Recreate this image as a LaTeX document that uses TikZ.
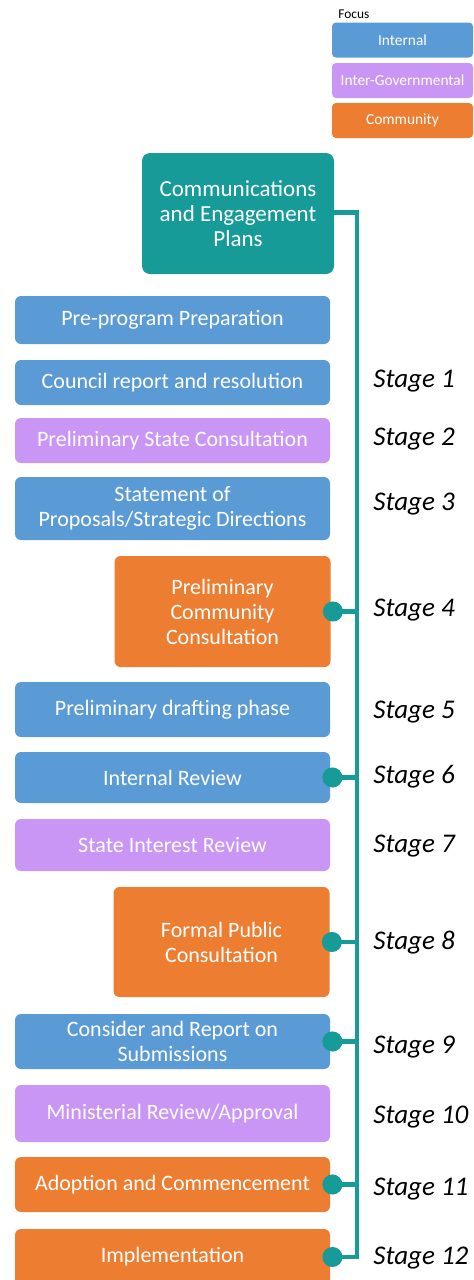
\documentclass[tikz,border=0pt]{standalone}
\usepackage{fontspec}
\setmainfont{Carlito}
\usetikzlibrary{arrows.meta}

\definecolor{internalblue}{RGB}{91,155,213}
\definecolor{govpurple}{RGB}{201,150,246}
\definecolor{commorange}{RGB}{237,125,49}
\definecolor{planteal}{RGB}{22,155,152}

\tikzset{
  box/.style={rectangle, rounded corners=3pt, text=white, align=center, inner sep=0pt,
    font=\fontsize{11}{12.5}\selectfont},
  wide/.style={box, minimum width=157.5pt},
  narrow/.style={box, minimum width=108pt},
  internal/.style={fill=internalblue},
  intergov/.style={fill=govpurple},
  community/.style={fill=commorange},
  legend/.style={rectangle, rounded corners=2pt, text=white, minimum width=70.5pt,
    minimum height=17.5pt, inner sep=0pt, font=\fontsize{7.7}{9}\selectfont},
  stage/.style={anchor=west, inner sep=0pt, font=\fontsize{13.5}{16}\selectfont\itshape},
  link/.style={draw=planteal, line width=2.4pt},
  dot/.style={{Circle[length=10pt,width=10pt]}-, shorten <=-4pt}
}

\begin{document}
\begin{tikzpicture}[x=0.5pt,y=-0.5pt]
\useasboundingbox (0,0) rectangle (473,1280);
\clip (0,0) rectangle (473,1280);
% legend
\node[anchor=west, inner sep=0pt, font=\fontsize{6.7}{8}\selectfont] (focus) at (338,14) {Focus};
\node[legend, internal] (leginternal) at (402.5,40) {Internal};
\node[legend, intergov] (legintergov) at (402.5,80.5) {Inter-Governmental};
\node[legend, community] (legcommunity) at (402.5,120.5) {Community};
% steps
\node[box, fill=planteal, minimum width=96pt, minimum height=60.5pt, rounded corners=4pt,
  font=\fontsize{11.5}{12.5}\selectfont] (plans) at (238,213.5) {Communications\\and Engagement\\Plans};
\node[wide, internal, minimum height=24pt] (prep) at (172.5,320) {Pre-program Preparation};
\node[wide, internal, minimum height=22.5pt] (council) at (172.5,382.5) {Council report and resolution};
\node[wide, intergov, minimum height=22.5pt] (prelimstate) at (172.5,440.5) {Preliminary State Consultation};
\node[wide, internal, minimum height=31.5pt] (statement) at (172.5,508.5) {Statement of\\Proposals/Strategic Directions};
\node[narrow, community, minimum height=55.5pt] (prelimcomm) at (222.5,611.5) {Preliminary\\Community\\Consultation};
\node[wide, internal, minimum height=27.5pt] (drafting) at (172.5,709.5) {Preliminary drafting phase};
\node[wide, internal, minimum height=25.5pt] (intreview) at (172.5,777.5) {Internal Review};
\node[wide, intergov, minimum height=26pt] (stateint) at (172.5,845) {State Interest Review};
\node[narrow, community, minimum height=55pt] (formal) at (221.5,942) {Formal Public\\Consultation};
\node[wide, internal, minimum height=27.5pt] (consider) at (172.5,1041.5) {Consider and Report on\\Submissions};
\node[wide, intergov, minimum height=28.5pt] (ministerial) at (172.5,1113.5) {Ministerial Review/Approval};
\node[wide, community, minimum height=27.5pt] (adoption) at (172.5,1184.5) {Adoption and Commencement};
\node[wide, community, minimum height=28pt] (impl) at (172.5,1257) {Implementation};
% stages
\node[stage] (s1) at (373,381) {Stage 1};
\node[stage] (s2) at (373,439) {Stage 2};
\node[stage] (s3) at (373,504) {Stage 3};
\node[stage] (s4) at (373,610) {Stage 4};
\node[stage] (s5) at (373,712) {Stage 5};
\node[stage] (s6) at (373,777) {Stage 6};
\node[stage] (s7) at (373,846) {Stage 7};
\node[stage] (s8) at (373,943) {Stage 8};
\node[stage] (s9) at (373,1047) {Stage 9};
\node[stage] (s10) at (373,1117) {Stage 10};
\node[stage] (s11) at (373,1189) {Stage 11};
\node[stage] (s12) at (373,1258) {Stage 12};
% timeline
\coordinate (top) at (357,212.5);
\coordinate (bottom) at (357,1257);
\draw[link, -{Circle[length=10pt,width=10pt]}, shorten >=-4pt] (plans.east |- top) -- (top) -- (bottom) -- (impl.east);
\draw[link, dot] (prelimcomm.east) -- (prelimcomm.east -| top);
\draw[link, dot] (intreview.east) -- (intreview.east -| top);
\draw[link, dot] (formal.east) -- (formal.east -| top);
\draw[link, dot] (consider.east) -- (consider.east -| top);
\draw[link, dot] (adoption.east) -- (adoption.east -| top);
\end{tikzpicture}
\end{document}
